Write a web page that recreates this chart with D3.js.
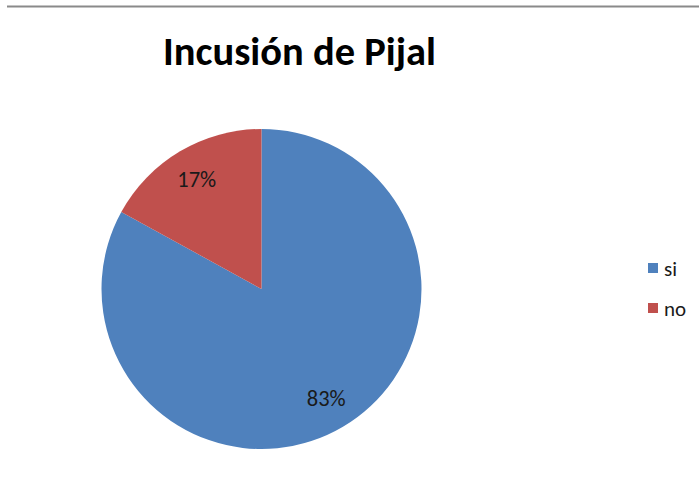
<!DOCTYPE html>
<html>
<head>
<meta charset="utf-8">
<script src="https://cdn.jsdelivr.net/npm/d3@7"></script>
<style>
  html, body { margin: 0; padding: 0; background: #fff; }
  svg { display: block; }
</style>
</head>
<body>
<svg id="chart" width="699" height="495"></svg>
<script>
const title = "Incusión de Pijal";
const categories = ["si", "no"];
const values = [83, 17];
const colors = ["#4F81BD", "#C0504D"];

const svg = d3.select("#chart");
const W = 699, H = 495;
const font = "Carlito, Calibri, 'Open Sans', 'Noto Sans', sans-serif";

// top border line
svg.append("line")
  .attr("x1", 7).attr("x2", W).attr("y1", 6.5).attr("y2", 6.5)
  .attr("stroke", "#8a8a8a").attr("stroke-width", 2);

// title
const t = svg.append("text")
  .attr("x", 299.5).attr("y", 65)
  .attr("text-anchor", "middle")
  .attr("font-family", font)
  .attr("font-weight", "bold")
  .attr("font-size", 34)
  .attr("fill", "#000")
  .text(title);
const tw = t.node().getComputedTextLength();
t.attr("font-size", 34 * 273 / tw);

// pie
const cx = 261.5, cy = 289, r = 160;
const g = svg.append("g").attr("transform", `translate(${cx},${cy})`);
const pie = d3.pie().sort(null).value(d => d.v)
  .startAngle(0).endAngle(2 * Math.PI);
const data = categories.map((c, i) => ({ c, v: values[i], col: colors[i] }));
const arcs = pie(data);
const arc = d3.arc().innerRadius(0).outerRadius(r);
g.selectAll("path.slice").data(arcs).enter().append("path")
  .attr("class", "slice")
  .attr("d", arc)
  .attr("fill", d => d.data.col);

const total = d3.sum(values);
const labelArc = d3.arc().innerRadius(r * 0.795).outerRadius(r * 0.795);
g.selectAll("text.lbl").data(arcs).enter().append("text")
  .attr("class", "lbl")
  .attr("transform", d => { const [x, y] = labelArc.centroid(d); return `translate(${x},${y})`; })
  .attr("text-anchor", "middle")
  .attr("dy", "0.33em")
  .attr("font-family", font)
  .attr("font-size", 22.5)
  .attr("fill", "#1a1a1a")
  .text(d => Math.round(d.data.v / total * 100) + "%");

// legend
const leg = svg.append("g").attr("transform", "translate(648,263)");
const items = leg.selectAll("g").data(data).enter().append("g")
  .attr("transform", (d, i) => `translate(0,${i * 40})`);
items.append("rect").attr("width", 10).attr("height", 10).attr("fill", d => d.col);
items.append("text")
  .attr("x", 16).attr("y", 13)
  .attr("font-family", font)
  .attr("font-size", 21)
  .attr("fill", "#1a1a1a")
  .text(d => d.c);
</script>
</body>
</html>
